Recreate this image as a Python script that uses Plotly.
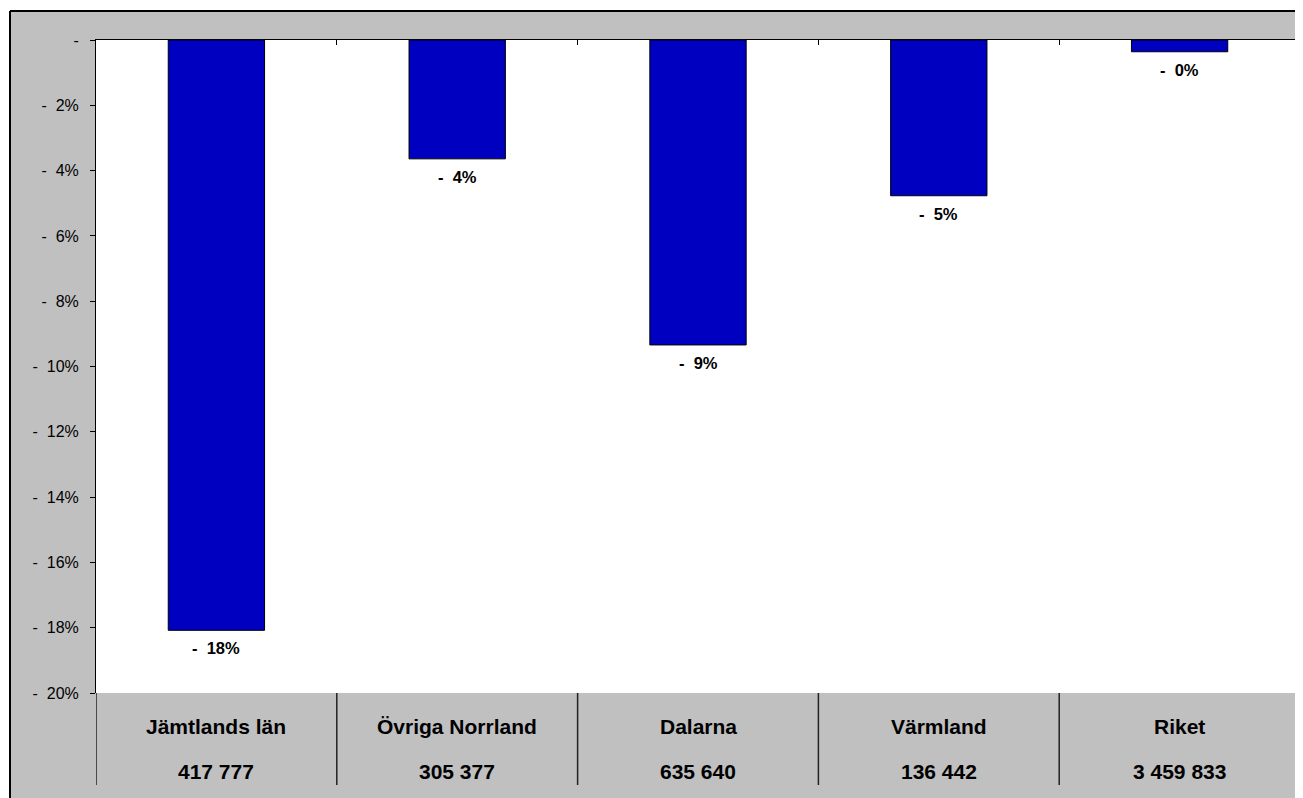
import plotly.graph_objects as go

# ---- data ----
categories = ["Jämtlands län", "Övriga Norrland", "Dalarna", "Värmland", "Riket"]
populations = ["417 777", "305 377", "635 640", "136 442", "3 459 833"]
change_pct = [-18.08, -3.64, -9.34, -4.77, -0.36]
tick_values = [0, -2, -4, -6, -8, -10, -12, -14, -16, -18, -20]

NB = "\u00a0"


def fmt(v):
    r = round(abs(v))
    return f"-{NB}{NB}{r}%"


tick_text = ["-" if t == 0 else f"-{NB}{NB}{abs(t)}%" for t in tick_values]
bar_labels = [fmt(v) for v in change_pct]

FONT = "Liberation Sans, Arial, sans-serif"
OFF = 8  # page body margin
W, H = 1303 - OFF, 798 - OFF
ML, MR, MT, MB = 96 - OFF, 3, 40 - OFF, 798 - 693
PW, PH = W - ML - MR, H - MT - MB


def px_x(p):  # page pixel -> paper
    return (p - OFF - ML) / PW


def px_y(p):
    return (H - MB - (p - OFF)) / PH


fig = go.Figure()
fig.add_trace(go.Bar(
    x=categories, y=change_pct, width=0.4,
    marker=dict(color="#0000C0", line=dict(color="black", width=1)),
    hoverinfo="skip", showlegend=False,
))

annotations = []
for c, v, lab in zip(categories, change_pct, bar_labels):
    annotations.append(dict(
        x=c, y=v, xref="x", yref="y", text=lab, showarrow=False,
        yanchor="top", yshift=-7,
        font=dict(family=FONT, size=16.5, color="black", weight="bold"),
    ))
for c, pop in zip(categories, populations):
    annotations.append(dict(
        x=c, y=px_y(726), xref="x", yref="paper", text=c, showarrow=False,
        yanchor="middle",
        font=dict(family=FONT, size=21, color="black", weight="bold"),
    ))
    annotations.append(dict(
        x=c, y=px_y(771), xref="x", yref="paper", text=pop, showarrow=False,
        yanchor="middle",
        font=dict(family=FONT, size=21, color="black", weight="bold"),
    ))

shapes = []
# white strips outside the chart frame
shapes.append(dict(type="rect", xref="paper", yref="paper",
                   x0=-0.2, x1=1.2, y0=px_y(11), y1=px_y(-20),
                   fillcolor="white", line=dict(width=0), layer="above"))
shapes.append(dict(type="rect", xref="paper", yref="paper",
                   x0=px_x(-50), x1=px_x(10), y0=px_y(900), y1=px_y(-20),
                   fillcolor="white", line=dict(width=0), layer="above"))
# frame lines
shapes.append(dict(type="line", xref="paper", yref="paper",
                   x0=px_x(10), x1=px_x(1400), y0=px_y(11), y1=px_y(11),
                   line=dict(color="black", width=2), layer="above"))
shapes.append(dict(type="line", xref="paper", yref="paper",
                   x0=px_x(10), x1=px_x(10), y0=px_y(11), y1=px_y(900),
                   line=dict(color="black", width=2), layer="above"))
# table separators at category boundaries
for i in range(len(categories) + 1):
    shapes.append(dict(type="line", xref="x", yref="paper",
                       x0=i - 0.5, x1=i - 0.5, y0=0, y1=px_y(785),
                       line=dict(color="#222222", width=1.5), layer="above"))

fig.update_layout(
    width=W, height=H,
    margin=dict(l=ML, r=MR, t=MT, b=MB, pad=0),
    paper_bgcolor="#C0C0C0", plot_bgcolor="white",
    font=dict(family=FONT, size=16, color="black"),
    bargap=0.6,
    xaxis=dict(
        type="category", side="top", showline=True, linecolor="black", linewidth=1,
        ticks="inside", tickson="boundaries", ticklen=5, tickcolor="black",
        showticklabels=False, showgrid=False, zeroline=False,
        range=[-0.5, len(categories) - 0.5],
    ),
    yaxis=dict(
        range=[-20, 0], tickmode="array", tickvals=tick_values, ticktext=tick_text,
        ticks="outside", ticklen=5, tickcolor="black", showline=True,
        linecolor="black", linewidth=1, showgrid=False, zeroline=False,
        ticklabelstandoff=8,
        tickfont=dict(family=FONT, size=16, color="black"),
    ),
    annotations=annotations,
    shapes=shapes,
)

fig.write_html("out.html")
